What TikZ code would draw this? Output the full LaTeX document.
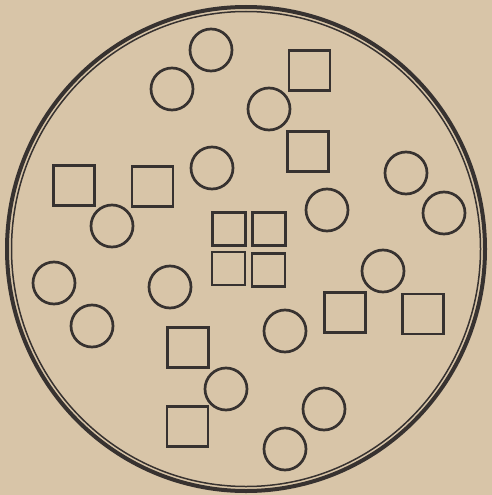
\documentclass[tikz,border=0pt]{standalone}
\begin{document}
\begin{tikzpicture}[x=1pt,y=-1pt,
  ink/.style={draw=inkc, line width=2.7pt},
  disc/.style={ink, circle, minimum size=42pt, inner sep=0pt},
  bigsq/.style={ink, rectangle, minimum width=41pt, minimum height=40pt, inner sep=0pt},
  smallsq/.style={ink, rectangle, minimum size=33pt, inner sep=0pt}]
\definecolor{paper}{RGB}{216,197,168}
\definecolor{inkc}{RGB}{55,50,48}
\fill[paper] (0,0) rectangle (492,495);
\useasboundingbox (0,0) rectangle (492,495);
% dish
\coordinate (c) at (246,249);
\draw[inkc, line width=4pt] (c) ellipse [x radius=239, y radius=242];
\draw[inkc, line width=1.5pt] (c) ellipse [x radius=234.5, y radius=237.5];
% circles
\node[disc] (c1) at (211,50) {};
\node[disc] (c2) at (172,89) {};
\node[disc] (c3) at (269,109) {};
\node[disc] (c4) at (212,168) {};
\node[disc] (c5) at (406,173) {};
\node[disc] (c6) at (327,210) {};
\node[disc] (c7) at (444,213) {};
\node[disc] (c8) at (112,226) {};
\node[disc] (c9) at (54,283) {};
\node[disc] (c10) at (170,287) {};
\node[disc] (c11) at (383,271) {};
\node[disc] (c12) at (92,326) {};
\node[disc] (c13) at (285,331) {};
\node[disc] (c14) at (226,389) {};
\node[disc] (c15) at (324,409) {};
\node[disc] (c16) at (285,449) {};
% big squares
\node[bigsq] (s1) at (309.5,70.5) {};
\node[bigsq] (s2) at (308,151.5) {};
\node[bigsq] (s3) at (74,185.5) {};
\node[bigsq] (s4) at (152.5,186.5) {};
\node[bigsq] (s5) at (345,312.5) {};
\node[bigsq] (s6) at (423,314) {};
\node[bigsq] (s7) at (188,347.5) {};
\node[bigsq] (s8) at (187.5,426.5) {};
% small squares
\node[smallsq] (q1) at (229,229) {};
\node[smallsq] (q2) at (269,229) {};
\node[smallsq] (q3) at (228.5,268.5) {};
\node[smallsq] (q4) at (268.5,270) {};
\end{tikzpicture}
\end{document}
